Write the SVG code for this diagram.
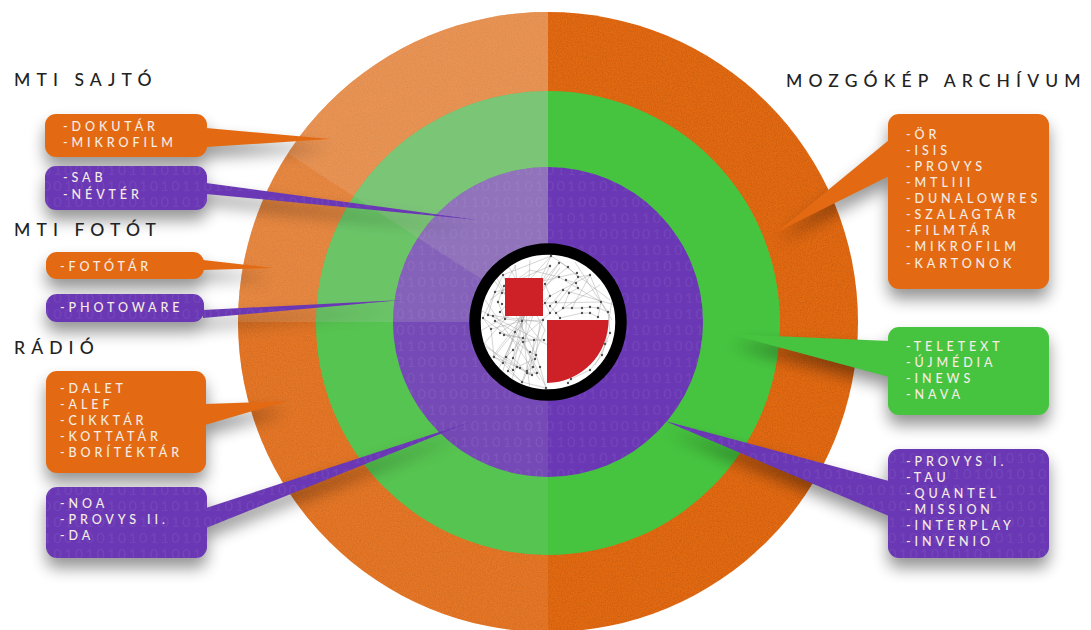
<svg xmlns="http://www.w3.org/2000/svg" xmlns:xlink="http://www.w3.org/1999/xlink" width="1091" height="630" viewBox="0 0 1091 630">
<style>
text{font-family:"Lato","Liberation Sans",sans-serif}
.h{font-size:17.5px;letter-spacing:6.100px;fill:#222;font-weight:500}
.t{font-size:12.5px;letter-spacing:3.900px;fill:#f6ece4;font-weight:500}
.b{font-size:14px;letter-spacing:2.600px;fill:#fff;fill-opacity:.06}
.or{fill:#e36a12}.gr{fill:#46c43f}.pu{fill:url(#bin)}
.s1{fill-opacity:.13}.s2{fill-opacity:.19}.s3{fill-opacity:.17}
</style>
<defs>
<pattern id="bin" patternUnits="userSpaceOnUse" x="0" y="0" width="214" height="160">
<rect width="214" height="160" fill="#6a38b4"/>
<text class="b" x="0" y="15">01010100101011101001</text>
<text class="b" x="0" y="31">10100010101001010110</text>
<text class="b" x="0" y="47">01011010100101001010</text>
<text class="b" x="0" y="63">10101001001010110101</text>
<text class="b" x="0" y="79">01001010101011010010</text>
<text class="b" x="0" y="95">10101011010100101011</text>
<text class="b" x="0" y="111">01010100101010101001</text>
<text class="b" x="0" y="127">10010101010110101010</text>
<text class="b" x="0" y="143">01101010010101010101</text>
<text class="b" x="0" y="159">10101001010100101010</text>
</pattern>
<filter id="sh" x="0" y="0" width="1091" height="640" filterUnits="userSpaceOnUse" color-interpolation-filters="sRGB">
<feGaussianBlur in="SourceAlpha" stdDeviation="8"/>
<feOffset dy="10"/>
<feComponentTransfer><feFuncA type="linear" slope=".42"/></feComponentTransfer>
</filter>
<filter id="grain" x="0" y="0" width="100%" height="100%" color-interpolation-filters="sRGB">
<feTurbulence type="fractalNoise" baseFrequency=".8" numOctaves="2" seed="4"/>
<feColorMatrix values="0 0 0 0 .35 0 0 0 0 .12 0 0 0 0 0 .35 0 0 0 -.13"/>
<feComposite in2="SourceAlpha" operator="in" result="n"/>
<feMerge><feMergeNode in="SourceGraphic"/><feMergeNode in="n"/></feMerge>
</filter>
<clipPath id="disc"><circle cx="548" cy="322" r="67.5"/></clipPath>
<clipPath id="cg"><circle cx="548" cy="323" r="232"/></clipPath>
<clipPath id="cp"><circle cx="548" cy="322" r="155"/></clipPath>
<g id="sectors">
<path class="s1" d="M548 12A310 310 0 0 0 548 632Z"/>
<path class="s2" d="M548 322H238A310 310 0 0 1 548 12Z"/>
<path class="s3" d="M548 322L287.8 153.500A310 310 0 0 1 548 12Z"/>
</g>
</defs>
<rect width="1091" height="630" fill="#fff"/>

<g id="rings">
<circle class="or" cx="548" cy="322" r="310" filter="url(#grain)"/>
<use href="#sectors" xlink:href="#sectors" fill="#f5d2b4"/>
<circle class="gr" cx="548" cy="323" r="232"/>
<g clip-path="url(#cg)"><use href="#sectors" xlink:href="#sectors" fill="#c8c8c8"/></g>
<circle class="pu" cx="548" cy="322" r="155"/>
<g clip-path="url(#cp)"><use href="#sectors" xlink:href="#sectors" fill="#c8c8c8"/></g>
</g>

<use href="#callouts" xlink:href="#callouts" filter="url(#sh)"/>

<g id="callouts">
<g id="connectors">
<path class="or" d="M206 128L330 139L206 147Z"/>
<path class="pu" d="M206 183L478 220L206 194Z"/>
<path class="or" d="M203 260L273 268L203 270Z"/>
<path class="pu" d="M203 310L402 300L203 318Z"/>
<path class="or" d="M205 404L287 401L205 425Z"/>
<path class="pu" d="M206 508L470 422L206 528Z"/>
<path class="or" d="M889 140L777 232L889 176Z"/>
<path class="gr" d="M889 341L730 334L889 377Z"/>
<path class="pu" d="M889 481L665 421L889 516Z"/>
</g>
<g id="n-sajto"><rect class="or" x="45" y="114" width="162" height="43" rx="11"/>
<text class="t" x="63" y="131">-DOKUTÁR</text><text class="t" x="63" y="147">-MIKROFILM</text></g>
<g id="n-sab"><rect class="pu" x="45" y="166" width="162" height="44" rx="11"/>
<text class="t" x="63" y="182">-SAB</text><text class="t" x="63" y="199">-NÉVTÉR</text></g>
<g id="n-fototar"><rect class="or" x="46" y="252" width="158" height="27" rx="11"/>
<text class="t" x="60" y="271">-FOTÓTÁR</text></g>
<g id="n-photoware"><rect class="pu" x="46" y="294" width="158" height="28" rx="11"/>
<text class="t" x="60" y="312">-PHOTOWARE</text></g>
<g id="n-radio"><rect class="or" x="46" y="371" width="160" height="102" rx="11"/>
<text class="t" x="60" y="393">-DALET</text><text class="t" x="60" y="409">-ALEF</text><text class="t" x="60" y="425">-CIKKTÁR</text><text class="t" x="60" y="441">-KOTTATÁR</text><text class="t" x="60" y="457">-BORÍTÉKTÁR</text></g>
<g id="n-noa"><rect class="pu" x="46" y="487" width="161" height="71" rx="11"/>
<text class="t" x="60" y="508">-NOA</text><text class="t" x="60" y="524">-PROVYS II.</text><text class="t" x="60" y="540">-DA</text></g>
<g id="n-mozgo"><rect class="or" x="888" y="114" width="161" height="175" rx="11"/>
<text class="t" x="906" y="139">-ÖR</text><text class="t" x="906" y="155">-ISIS</text><text class="t" x="906" y="171">-PROVYS</text><text class="t" x="906" y="187">-MTLIII</text><text class="t" x="906" y="203">-DUNALOWRES</text><text class="t" x="906" y="219">-SZALAGTÁR</text><text class="t" x="906" y="235">-FILMTÁR</text><text class="t" x="906" y="251">-MIKROFILM</text><text class="t" x="906" y="268">-KARTONOK</text></g>
<g id="n-teletext"><rect class="gr" x="888" y="327" width="161" height="88" rx="11"/>
<text class="t" x="906" y="351">-TELETEXT</text><text class="t" x="906" y="367">-ÚJMÉDIA</text><text class="t" x="906" y="383">-INEWS</text><text class="t" x="906" y="399">-NAVA</text></g>
<g id="n-provys"><rect class="pu" x="888" y="449" width="161" height="109" rx="11"/>
<text class="t" x="906" y="466">-PROVYS I.</text><text class="t" x="906" y="482">-TAU</text><text class="t" x="906" y="498">-QUANTEL</text><text class="t" x="906" y="514">-MISSION</text><text class="t" x="906" y="530">-INTERPLAY</text><text class="t" x="906" y="546">-INVENIO</text></g>
</g>

<g id="headings">
<text class="h" x="14" y="86">MTI SAJTÓ</text>
<text class="h" x="14" y="236">MTI FOTÓT</text>
<text class="h" x="14" y="354">RÁDIÓ</text>
<text class="h" x="786" y="87">MOZGÓKÉP ARCHÍVUM</text>
</g>

<g id="logo">
<circle cx="548" cy="322" r="73" fill="#fff" stroke="#000" stroke-width="11.500"/>
<g clip-path="url(#disc)" fill="none">
<path stroke="#999" stroke-width=".7" stroke-opacity=".6" d="M551 256L503 275L495 292L483 318L491 329L494 357L503 363L522 382L546 388M551 256L568 267L578 277L590 275L601 302L608 312L610 333L605 344L602 355L590 370L571 379L568 383M550 266L504 286L498 302L505 319L522 321L543 320M559 263L545 284L550 296L545 303L550 313L522 338L513 350L506 357L520 368L532 375M566 280L576 283L578 288L569 293L563 308L582 308L590 307L598 308L608 312M563 290L550 306L556 313L560 318L582 313L590 313L598 317M503 275L522 321L513 358L527 373L537 373M483 318L530 352L536 355L535 359L533 367L527 371M495 321L515 332L523 342L534 340L544 340M488 315L540 322L536 355L540 367L546 388M500 312L551 256M490 300L530 270L559 277M481 340L513 370L527 300L559 263M500 333L523 338L513 358L508 371L522 382M522 322L494 357L517 367L535 359M559 277L601 302L598 317M590 275L572 308M578 277L550 313M504 335L534 340L530 375M515 332L503 363M528 290L500 380M530 260L525 345L545 385M490 275L540 340M483 345L530 375M516 265L504 286L540 300M610 300L560 262M543 320L522 382M523 342L537 373M551 256L522 321L491 329M568 267L505 319L483 345M577 273L495 292L488 315M590 275L550 296L500 333M601 302L545 303L515 332M505 260L545 330L520 388M485 300L540 380M497 278L536 355M482 330L535 300M510 385L543 285M490 360L560 268M480 310L548 345M530 390L515 265M498 370L550 266M612 320L575 262M600 285L556 313M615 305L563 290M605 345L612 300M595 365L608 340"/>
<path stroke="#555" stroke-width="2.400" stroke-linecap="round" d="M551 256h0M550 266h0M559 263h0M568 267h0M577 273h0M578 277h0M590 275h0M566 280h0M576 283h0M559 277h0M545 284h0M578 288h0M563 290h0M569 293h0M550 296h0M556 302h0M545 303h0M550 306h0M563 308h0M572 308h0M582 308h0M590 307h0M601 302h0M598 308h0M608 312h0M590 313h0M582 313h0M598 317h0M550 313h0M556 313h0M560 318h0M503 275h0M504 286h0M495 292h0M502 293h0M498 302h0M502 304h0M500 312h0M483 318h0M488 315h0M493 316h0M505 319h0M522 321h0M543 320h0M495 321h0M491 329h0M500 333h0M504 335h0M515 332h0M523 338h0M523 342h0M534 340h0M544 340h0M513 350h0M530 352h0M536 355h0M535 359h0M494 357h0M506 357h0M513 358h0M503 363h0M517 367h0M520 368h0M527 371h0M533 367h0M540 367h0M508 371h0M513 370h0M532 375h0M527 373h0M537 373h0M522 382h0M546 388h0M568 383h0M571 379h0M590 370h0M602 355h0M605 344h0M610 333h0"/>
</g>
<rect x="505" y="278" width="38" height="38" fill="#ce2027"/>
<path d="M547 320H608.500A62 63 0 0 1 547 383Z" fill="#ce2027"/>
</g>
</svg>
